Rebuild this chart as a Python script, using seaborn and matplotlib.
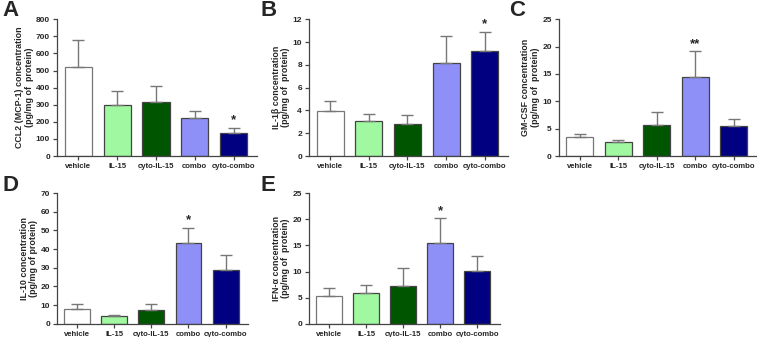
import numpy as np
import seaborn as sns
import matplotlib.pyplot as plt

# groups and bar colours
groups = ['vehicle', 'IL-15', 'cyto-IL-15', 'combo', 'cyto-combo']
colors = ['#ffffff', '#a0f8a0', '#005500', '#8f8ff8', '#000080']

# means and upper error
ccl2 = [520, 300, 313, 220, 135]
ccl2_err = [158, 80, 99, 45, 30]
il1b = [3.95, 3.1, 2.85, 8.15, 9.2]
il1b_err = [0.9, 0.6, 0.75, 2.35, 1.7]
gmcsf = [3.4, 2.5, 5.6, 14.5, 5.4]
gmcsf_err = [0.7, 0.5, 2.5, 4.6, 1.4]
il10 = [8.0, 4.0, 7.6, 43.5, 29.0]
il10_err = [2.7, 0.5, 3.1, 8.0, 8.0]
ifna = [5.4, 5.9, 7.3, 15.5, 10.1]
ifna_err = [1.4, 1.6, 3.4, 4.7, 2.9]

panels = [
    ('A', ccl2, ccl2_err, 'CCL2 (MCP-1) concentration\n(pg/mg of  protein)', 800, 100, {4: '*'}),
    ('B', il1b, il1b_err, 'IL-1\u03b2 concentration\n(pg/mg of  protein)', 12, 2, {4: '*'}),
    ('C', gmcsf, gmcsf_err, 'GM-CSF concentration\n(pg/mg of  protein)', 25, 5, {3: '**'}),
    ('D', il10, il10_err, 'IL-10 concentration\n(pg/mg of protein)', 70, 10, {3: '*'}),
    ('E', ifna, ifna_err, 'IFN-\u03b1 concentration\n(pg/mg of  protein)', 25, 5, {3: '*'}),
]

# axes boxes in figure fractions [left, bottom, width, height]
boxes = [
    [0.0753, 0.537, 0.264, 0.406],
    [0.408, 0.537, 0.263, 0.406],
    [0.738, 0.537, 0.262, 0.406],
    [0.0753, 0.039, 0.252, 0.388],
    [0.408, 0.039, 0.252, 0.388],
]
# panel letter positions (top-left, figure fractions)
letters_xy = [(0.003, 1.0), (0.344, 1.0), (0.672, 1.0),
              (0.003, 0.482), (0.344, 0.482)]

sns.set_style('ticks')
plt.rcParams['font.family'] = ['Liberation Sans', 'DejaVu Sans']
plt.rcParams['font.weight'] = 'bold'

fig = plt.figure(figsize=(7.57, 3.37), dpi=100)

for (letter, vals, errs, ylab, ymax, step, stars), box, lxy in zip(panels, boxes, letters_xy):
    ax = fig.add_axes(box)
    sns.barplot(x=groups, y=vals, hue=groups, palette=colors, legend=False,
                saturation=1, width=0.7, edgecolor='#444444', linewidth=0.9, ax=ax)
    ax.patches[0].set_edgecolor('#777777')
    ax.errorbar(range(len(groups)), vals, yerr=[np.zeros(len(vals)), errs],
                fmt='none', ecolor='#777777', elinewidth=1.0, capsize=4.5,
                capthick=1.0, zorder=3)
    for i, s in stars.items():
        ax.text(i, vals[i] + errs[i] + ymax * 0.01, s, ha='center', va='bottom',
                fontsize=9.5, fontweight='bold')
    ax.set_xlim(-0.55, 4.6)
    ax.set_ylim(0, ymax)
    ax.set_yticks(np.arange(0, ymax + step / 2, step))
    ax.set_ylabel(ylab, fontsize=6.4, fontweight='bold', linespacing=1.1, labelpad=1.5)
    ax.set_xlabel('')
    ax.tick_params(axis='both', length=3, width=0.9, color='#444444', pad=2)
    ax.tick_params(axis='x', labelsize=5.6)
    ax.tick_params(axis='y', labelsize=6.0)
    for lab in ax.get_xticklabels() + ax.get_yticklabels():
        lab.set_fontweight('bold')
    sns.despine(ax=ax)
    for sp in ['left', 'bottom']:
        ax.spines[sp].set_color('#444444')
        ax.spines[sp].set_linewidth(0.9)
    fig.text(lxy[0], lxy[1], letter, fontsize=16, fontweight='bold', va='top', ha='left')

fig.savefig('out.png', dpi=100)
